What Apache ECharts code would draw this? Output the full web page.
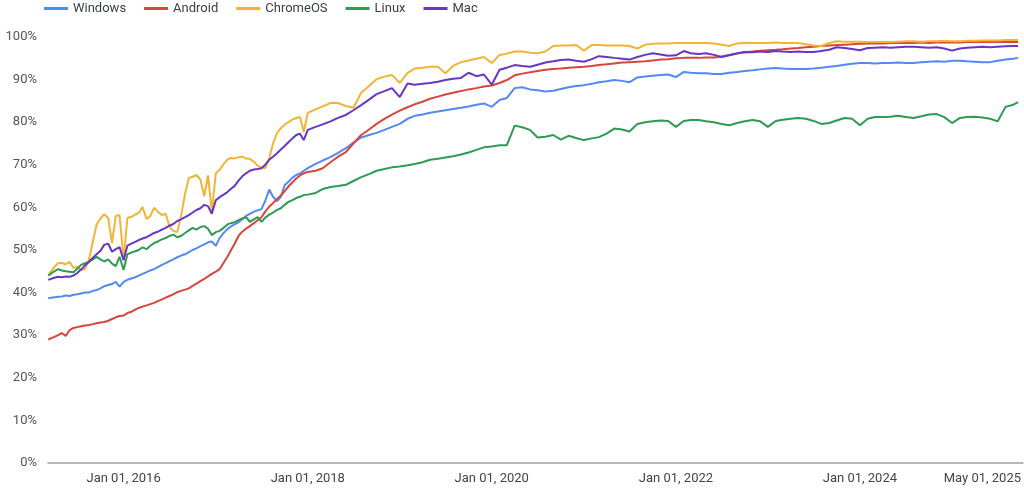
<!DOCTYPE html>
<html>
<head>
<meta charset="utf-8">
<script src="https://cdn.jsdelivr.net/npm/echarts@6/dist/echarts.min.js"></script>
<style>
html,body{margin:0;padding:0;background:#fff;}
#chart{width:1024px;height:489px;}
</style>
</head>
<body>
<div id="chart"></div>
<script>
const dates = [
'2015-03-08',
'2015-04-01','2015-04-16','2015-05-01','2015-05-16','2015-06-01','2015-06-16','2015-07-01','2015-07-16','2015-08-01','2015-08-16',
'2015-09-01','2015-09-16','2015-10-01','2015-10-16','2015-11-01','2015-11-16','2015-12-01','2015-12-16',
'2016-01-01','2016-01-16','2016-02-01','2016-02-16','2016-03-01','2016-03-16','2016-04-01','2016-04-16','2016-05-01','2016-05-16',
'2016-06-01','2016-06-16','2016-07-01','2016-07-16','2016-08-01','2016-08-16','2016-09-01','2016-09-16','2016-10-01','2016-10-16',
'2016-11-01','2016-11-16','2016-12-01','2016-12-16',
'2017-01-01','2017-01-16','2017-02-01','2017-02-16','2017-03-01','2017-03-16','2017-04-01','2017-04-16','2017-05-01','2017-05-16',
'2017-06-01','2017-06-16','2017-07-01','2017-07-16','2017-08-01','2017-08-16','2017-09-01','2017-09-16','2017-10-01','2017-10-16',
'2017-11-01','2017-11-16','2017-12-01','2017-12-16',
'2018-01-01','2018-02-01','2018-03-01','2018-04-01','2018-05-01','2018-06-01','2018-07-01','2018-08-01','2018-09-01','2018-10-01','2018-11-01','2018-12-01',
'2019-01-01','2019-02-01','2019-03-01','2019-04-01','2019-05-01','2019-06-01','2019-07-01','2019-08-01','2019-09-01','2019-10-01','2019-11-01','2019-12-01',
'2020-01-01','2020-02-01','2020-03-01','2020-04-01','2020-05-01','2020-06-01','2020-07-01','2020-08-01','2020-09-01','2020-10-01','2020-11-01','2020-12-01',
'2021-01-01','2021-02-01','2021-03-01','2021-04-01','2021-05-01','2021-06-01','2021-07-01','2021-08-01','2021-09-01','2021-10-01','2021-11-01','2021-12-01',
'2022-01-01','2022-02-01','2022-03-01','2022-04-01','2022-05-01','2022-06-01','2022-07-01','2022-08-01','2022-09-01','2022-10-01','2022-11-01','2022-12-01',
'2023-01-01','2023-02-01','2023-03-01','2023-04-01','2023-05-01','2023-06-01','2023-07-01','2023-08-01','2023-09-01','2023-10-01','2023-11-01','2023-12-01',
'2024-01-01','2024-02-01','2024-03-01','2024-04-01','2024-05-01','2024-06-01','2024-07-01','2024-08-01','2024-09-01','2024-10-01','2024-11-01','2024-12-01',
'2025-01-01','2025-02-01','2025-03-01','2025-04-01','2025-05-01','2025-06-01','2025-07-01','2025-08-01','2025-09-01','2025-09-20'
];

const windows = [
38.7,38.9,39.0,39.1,39.3,39.2,39.5,39.6,39.8,40.0,
40.0,40.4,40.6,41.0,41.5,41.8,42.0,42.5,41.4,42.5,
43.0,43.3,43.6,44.0,44.4,44.8,45.2,45.5,46.0,46.5,
46.9,47.4,47.8,48.3,48.7,49.0,49.5,50.0,50.4,50.9,
51.3,51.8,52.0,51.0,52.8,54.0,54.9,55.5,56.0,56.5,
57.2,58.0,58.5,59.0,59.3,59.6,61.5,64.2,62.5,61.5,
62.5,65.2,66.0,67.0,67.6,68.0,68.6,69.2,70.2,71.0,
71.8,72.8,73.9,75.2,76.4,77.0,77.5,78.2,78.9,79.6,
80.8,81.5,81.8,82.2,82.5,82.8,83.1,83.4,83.7,84.1,
84.4,83.6,85.2,85.7,88.0,88.2,87.7,87.5,87.2,87.4,
87.8,88.2,88.5,88.7,89.0,89.4,89.6,89.9,89.7,89.4,
90.5,90.7,90.9,91.1,91.2,90.6,91.8,91.6,91.5,91.5,
91.3,91.3,91.6,91.8,92.0,92.2,92.4,92.6,92.7,92.6,
92.5,92.5,92.5,92.6,92.8,93.0,93.2,93.5,93.7,93.9,
93.9,93.8,93.9,93.9,94.0,93.9,93.9,94.1,94.2,94.3,
94.2,94.4,94.4,94.3,94.2,94.1,94.1,94.4,94.7,94.9,
95.1
];

const android = [
29.0,29.6,30.0,30.5,29.8,31.2,31.7,31.9,32.1,32.3,
32.4,32.6,32.8,33.0,33.1,33.4,33.8,34.2,34.5,34.6,
35.2,35.5,36.0,36.4,36.7,37.0,37.3,37.6,38.0,38.4,
38.8,39.2,39.6,40.1,40.4,40.7,41.0,41.6,42.1,42.7,
43.2,43.8,44.4,44.9,45.5,47.0,48.4,49.8,51.4,53.3,
54.3,55.0,55.6,56.3,57.0,57.7,59.0,60.2,61.0,62.0,
62.8,63.8,64.9,65.9,66.8,67.5,68.0,68.3,68.6,69.2,
70.6,71.9,73.0,75.0,77.0,78.3,79.6,80.8,81.8,82.7,
83.5,84.2,84.8,85.5,86.0,86.5,86.9,87.3,87.7,88.0,
88.4,88.6,89.2,89.9,91.0,91.4,91.7,92.0,92.3,92.5,
92.6,92.8,92.9,93.0,93.2,93.4,93.6,93.8,94.0,94.1,
94.2,94.3,94.5,94.7,94.8,95.0,95.1,95.1,95.1,95.2,
95.2,95.4,95.8,96.1,96.4,96.6,96.8,96.9,97.0,97.1,
97.3,97.4,97.6,97.7,97.9,98.0,98.1,98.2,98.3,98.4,
98.5,98.5,98.5,98.6,98.6,98.6,98.6,98.7,98.6,98.7,
98.7,98.7,98.7,98.8,98.8,98.8,98.8,98.8,98.8,98.8,
98.8
];

const chromeos = [
44.1,46.0,46.9,47.0,46.6,47.2,45.8,46.0,45.3,45.6,
47.6,52.0,56.0,57.4,58.4,57.5,51.6,58.0,58.2,47.6,
57.5,57.8,58.3,58.7,60.1,57.3,58.0,59.9,59.0,58.2,
58.5,55.5,54.5,54.2,58.0,63.2,66.9,67.2,67.6,66.5,
62.6,67.5,59.0,68.0,68.8,70.2,71.2,71.6,71.5,71.8,
71.9,71.5,71.4,70.7,69.8,69.4,69.2,71.5,75.0,77.5,
78.6,79.4,80.0,80.6,81.0,81.2,77.7,82.2,83.0,83.7,
84.5,84.5,83.8,83.4,86.9,88.5,90.1,90.7,91.1,89.2,
91.6,92.6,92.8,93.0,93.0,91.5,93.2,94.1,94.5,94.9,
95.3,93.9,95.8,96.1,96.6,96.6,96.3,96.2,96.6,97.9,
98.0,98.0,98.1,96.8,98.1,98.1,98.0,98.0,98.0,97.9,
97.3,98.2,98.4,98.5,98.5,98.6,98.6,98.6,98.6,98.6,
98.5,98.2,97.9,98.5,98.6,98.6,98.6,98.6,98.7,98.6,
98.6,98.6,98.3,98.0,97.9,98.6,99.0,98.9,98.9,98.9,
98.8,98.8,98.8,98.8,98.9,99.0,99.0,98.9,99.0,99.0,
99.1,99.0,99.0,99.1,99.1,99.2,99.2,99.2,99.3,99.3,
99.3
];

const linux = [
44.0,45.0,45.5,45.2,45.0,44.9,44.8,45.6,46.5,46.9,
47.2,47.8,48.4,47.8,47.3,47.8,46.8,46.2,48.4,45.3,
49.0,49.4,49.7,50.0,50.6,50.2,51.0,51.6,52.0,52.5,
52.8,53.3,53.6,53.0,53.3,54.0,54.6,55.2,54.8,55.4,
55.6,55.0,53.5,54.2,54.5,55.2,56.0,56.3,56.5,57.0,
57.4,57.7,56.6,57.2,57.7,56.6,57.6,58.3,58.8,59.4,
59.8,60.6,61.3,61.7,62.2,62.5,62.9,63.0,63.4,64.3,
64.8,65.0,65.3,66.2,67.1,67.8,68.6,69.0,69.4,69.6,
69.9,70.2,70.6,71.2,71.4,71.7,72.0,72.4,72.9,73.5,
74.1,74.3,74.6,74.6,79.2,78.8,78.2,76.4,76.6,77.0,
75.9,76.8,76.3,75.8,76.2,76.5,77.3,78.5,78.3,77.8,
79.6,80.0,80.2,80.4,80.3,78.9,80.3,80.5,80.5,80.2,
80.0,79.6,79.3,79.8,80.2,80.5,80.2,78.9,80.3,80.6,
80.8,81.0,80.8,80.3,79.6,79.8,80.4,81.0,80.8,79.3,
80.8,81.2,81.2,81.3,81.5,81.2,81.0,81.4,81.8,81.9,
81.2,79.8,81.0,81.2,81.3,81.1,80.8,80.2,83.6,84.1,
84.7
];

const mac = [
43.0,43.5,43.7,43.6,43.8,43.7,44.0,44.6,45.4,46.4,
47.2,48.2,49.0,49.8,51.2,51.5,49.6,50.2,50.7,47.6,
51.0,51.5,51.9,52.3,52.7,53.0,53.5,54.0,54.3,54.8,
55.2,55.7,56.1,56.8,57.2,57.7,58.2,58.8,59.4,59.8,
60.6,60.3,58.5,61.7,62.4,63.0,63.6,64.3,65.0,66.3,
67.3,68.0,68.6,68.9,69.0,69.2,70.0,71.2,71.9,72.7,
73.6,74.4,75.3,76.2,77.0,77.3,75.8,78.2,78.9,79.5,
80.2,81.0,81.7,82.8,84.0,85.3,86.6,87.3,88.0,85.9,
89.1,88.8,89.0,89.2,89.5,89.9,90.2,90.4,91.6,90.8,
91.2,88.8,92.3,92.8,93.4,93.2,93.0,93.5,94.0,94.3,
94.6,94.7,94.4,94.2,94.8,95.5,95.3,95.1,94.9,94.7,
95.3,95.8,96.2,95.9,95.6,95.7,96.7,96.2,96.0,96.2,
95.8,95.3,95.7,96.2,96.5,96.4,96.6,96.5,96.7,96.6,
96.5,96.6,96.5,96.5,96.7,97.0,97.6,97.4,97.2,96.9,
97.4,97.5,97.6,97.5,97.6,97.7,97.7,97.6,97.5,97.6,
97.3,96.8,97.3,97.5,97.6,97.7,97.6,97.7,97.8,97.9,
97.9
];

const tickDates = ['2016-01-01','2018-01-01','2020-01-01','2022-01-01','2024-01-01','2025-05-01'];
const monthNames = ['Jan','Feb','Mar','Apr','May','Jun','Jul','Aug','Sep','Oct','Nov','Dec'];

function parseLocal(s){
  const p = s.split('-').map(Number);
  return new Date(p[0], p[1]-1, p[2]).getTime();
}
function pair(vals){ return dates.map((d,i)=>[parseLocal(d), vals[i]]); }

const seriesDefs = [
  {name:'Windows', data:windows, color:'#5389f4'},
  {name:'Android', data:android, color:'#d6463b'},
  {name:'ChromeOS', data:chromeos, color:'#f2b437'},
  {name:'Linux', data:linux, color:'#2e9a52'},
  {name:'Mac', data:mac, color:'#6637c4'}
];

const chart = echarts.init(document.getElementById('chart'), null, {renderer:'canvas'});
chart.setOption({
  animation:false,
  textStyle:{fontFamily:'Roboto'},
  color: seriesDefs.map(s=>s.color),
  legend:{
    left:44, top:2, padding:0, icon:'rect', itemWidth:24, itemHeight:3, itemGap:18,
    textStyle:{fontSize:13, color:'#3c4043', fontFamily:'Roboto'},
    data: seriesDefs.map(s=>s.name)
  },
  grid:{left:48, right:0, top:37, bottom:26, containLabel:false},
  xAxis:{
    type:'value',
    min: parseLocal('2015-03-07'),
    max: parseLocal('2025-10-09'),
    axisLine:{show:true, lineStyle:{color:'#9e9e9e', width:1.5}},
    axisTick:{show:false},
    splitLine:{show:false},
    axisLabel:{
      customValues: tickDates.map(parseLocal),
      showMinLabel:true, showMaxLabel:true,
      margin:9, fontSize:13, color:'#444', fontFamily:'Roboto',
      formatter: function(v){
        const d = new Date(v);
        const dd = String(d.getDate()).padStart(2,'0');
        return monthNames[d.getMonth()] + ' ' + dd + ', ' + d.getFullYear();
      }
    }
  },
  yAxis:{
    type:'value', min:0, max:100, interval:10,
    axisLine:{show:false}, axisTick:{show:false},
    splitLine:{show:false},
    axisLabel:{formatter:'{value}%', margin:11, fontSize:13, color:'#555', fontFamily:'Roboto'}
  },
  series: seriesDefs.map(s=>({
    name:s.name, type:'line', data:pair(s.data), symbol:'none', showSymbol:false,
    lineStyle:{width:2, color:s.color}, itemStyle:{color:s.color},
    emphasis:{disabled:true}
  }))
});
</script>
</body>
</html>
